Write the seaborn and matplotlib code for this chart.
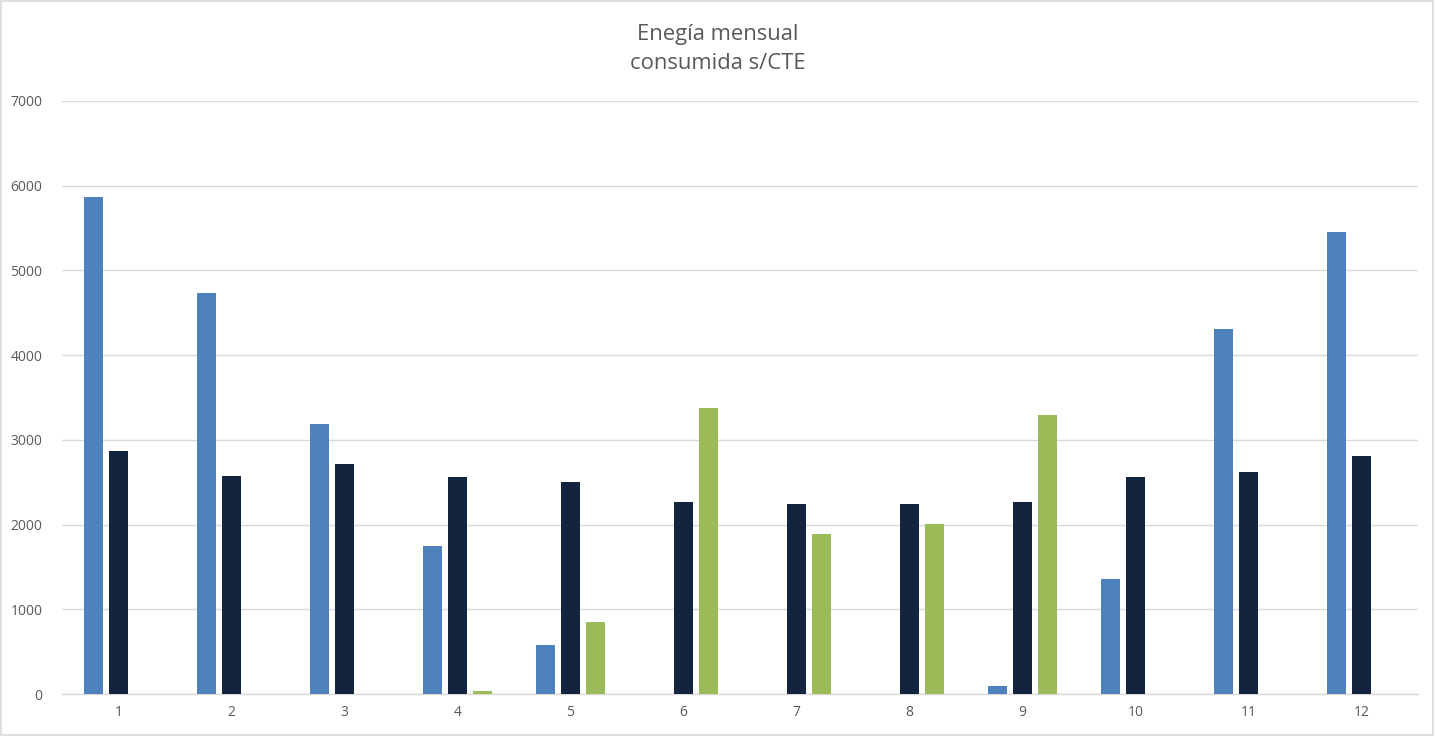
import numpy as np
import pandas as pd
import matplotlib
matplotlib.use("Agg")
import matplotlib.pyplot as plt
from matplotlib.patches import Rectangle
import seaborn as sns

months = ["1", "2", "3", "4", "5", "6", "7", "8", "9", "10", "11", "12"]
serie1 = [5865, 4730, 3187, 1747, 580, 0, 0, 0, 100, 1352, 4312, 5448]
serie2 = [2865, 2578, 2718, 2565, 2505, 2270, 2240, 2240, 2272, 2556, 2624, 2808]
serie3 = [0, 0, 0, 35, 855, 3378, 1884, 2008, 3296, 0, 0, 0]
series_names = ["Serie1", "Serie2", "Serie3"]
colors = ["#4f81bd", "#13243f", "#9bbb59"]

df = pd.DataFrame({
    "mes": months * 3,
    "valor": serie1 + serie2 + serie3,
    "serie": [series_names[0]] * 12 + [series_names[1]] * 12 + [series_names[2]] * 12,
})

sns.set_theme(style="white")
plt.rcParams["font.family"] = ["Open Sans", "DejaVu Sans"]

fig = plt.figure(figsize=(14.36, 7.36), dpi=100)
ax = fig.add_axes([62 / 1436, 42 / 736, (1418 - 62) / 1436, (694 - 101) / 736])

sns.barplot(data=df, x="mes", y="valor", hue="serie", order=months,
            hue_order=series_names, palette=colors, width=0.66, gap=0.23,
            linewidth=0, saturation=1, legend=False, ax=ax, zorder=3)

ax.set_ylim(0, 7000)
ax.set_xlim(-0.5, 11.5)
ax.set_yticks(np.arange(0, 7001, 1000))
ax.yaxis.grid(True, color="#d9d9d9", linewidth=1, zorder=0)
ax.set_axisbelow(True)
for s in ["top", "right", "left"]:
    ax.spines[s].set_visible(False)
ax.spines["bottom"].set_color("#d9d9d9")
ax.spines["bottom"].set_linewidth(1)
ax.tick_params(axis="both", colors="#595959", labelsize=10, length=0)
ax.tick_params(axis="y", pad=14)
ax.tick_params(axis="x", pad=8)
ax.set_xlabel("")
ax.set_ylabel("")

fig.text(0.5, 1 - 49 / 736, "Enegía mensual\nconsumida s/CTE", ha="center", va="center",
         fontsize=15.8, color="#595959", linespacing=1.45)

fig.patches.append(Rectangle((0.001, 0.001), 0.997, 0.997, transform=fig.transFigure,
                             fill=False, edgecolor="#d9d9d9", linewidth=1.2))

fig.savefig("out.png", dpi=100)
